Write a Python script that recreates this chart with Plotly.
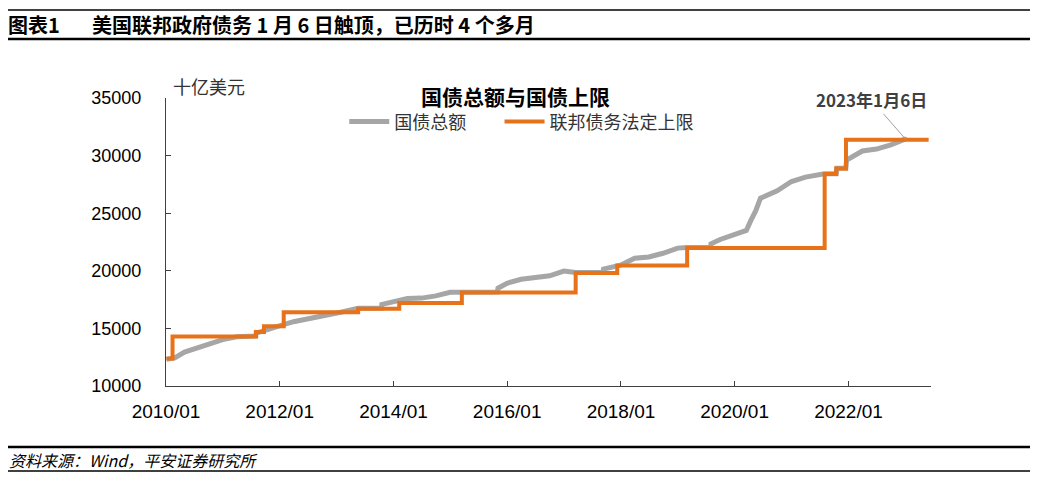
import plotly.graph_objects as go

# ---- data ----
debt_dates = [
    "2010-01-04", "2010-02-26", "2010-04-30", "2010-06-30", "2010-09-30", "2010-12-31",
    "2011-03-31", "2011-05-16", "2011-08-01", "2011-08-03", "2011-09-30", "2011-12-30",
    "2012-03-30", "2012-06-29", "2012-09-28", "2012-12-31", "2013-02-04", "2013-05-19",
    "2013-10-16", "2013-10-18", "2013-12-31", "2014-03-31", "2014-06-30", "2014-09-30",
    "2014-12-31", "2015-03-16", "2015-10-30", "2015-11-03", "2015-12-31", "2016-03-31",
    "2016-06-30", "2016-09-30", "2016-12-30", "2017-03-16", "2017-09-07", "2017-09-11",
    "2017-12-29", "2018-03-30", "2018-06-29", "2018-09-28", "2018-12-31", "2019-03-01",
    "2019-07-31", "2019-08-02", "2019-09-30", "2019-12-31", "2020-03-16", "2020-04-15",
    "2020-05-15", "2020-06-15", "2020-07-31", "2020-09-30", "2020-12-31", "2021-03-31",
    "2021-07-30", "2021-10-14", "2021-10-20", "2021-12-15", "2021-12-20", "2022-03-31",
    "2022-06-30", "2022-09-30", "2022-12-30", "2023-01-06",
]
debt_values = [
    12311, 12440, 12950, 13200, 13560, 14025,
    14270, 14294, 14343, 14580, 14790, 15220,
    15580, 15860, 16070, 16430, 16430, 16740,
    16740, 17080, 17350, 17600, 17630, 17820,
    18140, 18150, 18150, 18490, 18920, 19260,
    19380, 19570, 19980, 19850, 19850, 20160,
    20490, 21090, 21200, 21520, 21970, 22030,
    22020, 22340, 22720, 23200, 23500, 24400,
    25200, 26300, 26600, 26950, 27750, 28130,
    28430, 28430, 28900, 28910, 29620, 30400,
    30570, 30930, 31420, 31381,
]

limit_dates = [
    "2010-01-04", "2010-02-12", "2011-08-02", "2011-09-22", "2012-01-27", "2013-05-19",
    "2014-02-07", "2015-03-16", "2017-03-16", "2017-12-08", "2019-03-02", "2021-08-01",
    "2021-10-14", "2021-12-16", "2023-05-31",
]
limit_values = [
    12394, 14294, 14694, 15194, 16394, 16699,
    17212, 18113, 19809, 20456, 21988, 28401,
    28881, 31381, 31381,
]

x_tick_vals = ["2010-01-01", "2012-01-01", "2014-01-01", "2016-01-01",
               "2018-01-01", "2020-01-01", "2022-01-01"]
x_tick_text = ["2010/01", "2012/01", "2014/01", "2016/01", "2018/01", "2020/01", "2022/01"]
y_tick_vals = [10000, 15000, 20000, 25000, 30000, 35000]
y_tick_text = ["10000", "15000", "20000", "25000", "30000", "35000"]

series_names = ["国债总额", "联邦债务法定上限"]

GRAY = "#A6A6A6"
ORANGE = "#E8721A"
CJK = "Noto Sans CJK SC"
LAT = "Liberation Sans"

fig = go.Figure()
fig.add_trace(go.Scatter(
    x=debt_dates, y=debt_values, name=series_names[0], mode="lines",
    line=dict(color=GRAY, width=5), legend="legend",
))
fig.add_trace(go.Scatter(
    x=limit_dates, y=limit_values, name=series_names[1], mode="lines",
    line=dict(color=ORANGE, width=4, shape="hv"), legend="legend2",
))

legend_common = dict(
    orientation="h", xanchor="left", y=0.917, yanchor="middle",
    font=dict(family=CJK, size=18, color="#333333"),
    bgcolor="rgba(0,0,0,0)", itemwidth=40,
)

# page has an 8px body margin; figure is sized to fit inside the window
fig.update_layout(
    width=1022, height=465,
    margin=dict(l=158, r=99, t=90, b=87),
    paper_bgcolor="white", plot_bgcolor="white",
    showlegend=True,
    legend=dict(x=0.233, **legend_common),
    legend2=dict(x=0.436, **legend_common),
    xaxis=dict(
        type="date", range=["2010-01-01", "2023-06-15"],
        tickvals=x_tick_vals, ticktext=x_tick_text,
        ticks="inside", ticklen=5, tickcolor="#404040",
        showline=True, linecolor="#404040", linewidth=1,
        showgrid=False, zeroline=False,
        tickfont=dict(family=LAT, size=19, color="black"),
        ticklabelstandoff=8,
    ),
    yaxis=dict(
        range=[10000, 35000], tickvals=y_tick_vals, ticktext=y_tick_text,
        ticks="inside", ticklen=5, tickcolor="#404040",
        showline=True, linecolor="#404040", linewidth=1,
        showgrid=False, zeroline=False,
        tickfont=dict(family=LAT, size=18, color="black"),
        ticklabelstandoff=20,
    ),
)

def px_to_paper_x(px):
    return (px - 166) / 765.0

def px_to_paper_y(py):
    return (386 - py) / 288.0

annotations = [
    dict(text="<b>图表1</b>", x=px_to_paper_x(6), y=px_to_paper_y(25), xref="paper", yref="paper",
         xanchor="left", yanchor="middle", showarrow=False,
         font=dict(family=CJK, size=20, color="black")),
    dict(text="<b>美国联邦政府债务 1 月 6 日触顶，已历时 4 个多月</b>", x=px_to_paper_x(90),
         y=px_to_paper_y(25), xref="paper", yref="paper",
         xanchor="left", yanchor="middle", showarrow=False,
         font=dict(family=CJK, size=20, color="black")),
    dict(text="<i>资料来源：Wind，平安证券研究所</i>", x=px_to_paper_x(7), y=px_to_paper_y(460),
         xref="paper", yref="paper", xanchor="left", yanchor="middle", showarrow=False,
         font=dict(family=CJK, size=16, color="black")),
    dict(text="<b>国债总额与国债上限</b>", x=px_to_paper_x(515), y=px_to_paper_y(96),
         xref="paper", yref="paper", xanchor="center", yanchor="middle", showarrow=False,
         font=dict(family=CJK, size=21, color="black")),
    dict(text="十亿美元", x=px_to_paper_x(171), y=px_to_paper_y(86),
         xref="paper", yref="paper", xanchor="left", yanchor="middle", showarrow=False,
         font=dict(family=CJK, size=18, color="#333333")),
    dict(text="<b>2023年1月6日</b>", x=debt_dates[-1], y=debt_values[-1], xref="x", yref="y",
         ax=-35, ay=-40, showarrow=True, arrowhead=0, arrowwidth=1, arrowcolor="#A0A0A0",
         font=dict(family=CJK, size=17, color="#404040")),
]
fig.update_layout(annotations=annotations)

shapes = [
    dict(type="line", xref="paper", yref="paper", x0=px_to_paper_x(0), x1=px_to_paper_x(1030),
         y0=px_to_paper_y(10), y1=px_to_paper_y(10), line=dict(color="black", width=1.5)),
    dict(type="line", xref="paper", yref="paper", x0=px_to_paper_x(0), x1=px_to_paper_x(1030),
         y0=px_to_paper_y(39), y1=px_to_paper_y(39), line=dict(color="black", width=2.5)),
    dict(type="line", xref="paper", yref="paper", x0=px_to_paper_x(0), x1=px_to_paper_x(1030),
         y0=px_to_paper_y(447), y1=px_to_paper_y(447), line=dict(color="black", width=2.5)),
    dict(type="line", xref="paper", yref="paper", x0=px_to_paper_x(0), x1=px_to_paper_x(1030),
         y0=px_to_paper_y(471), y1=px_to_paper_y(471), line=dict(color="black", width=1.5)),
]
fig.update_layout(shapes=shapes)

fig.write_html("out.html")
